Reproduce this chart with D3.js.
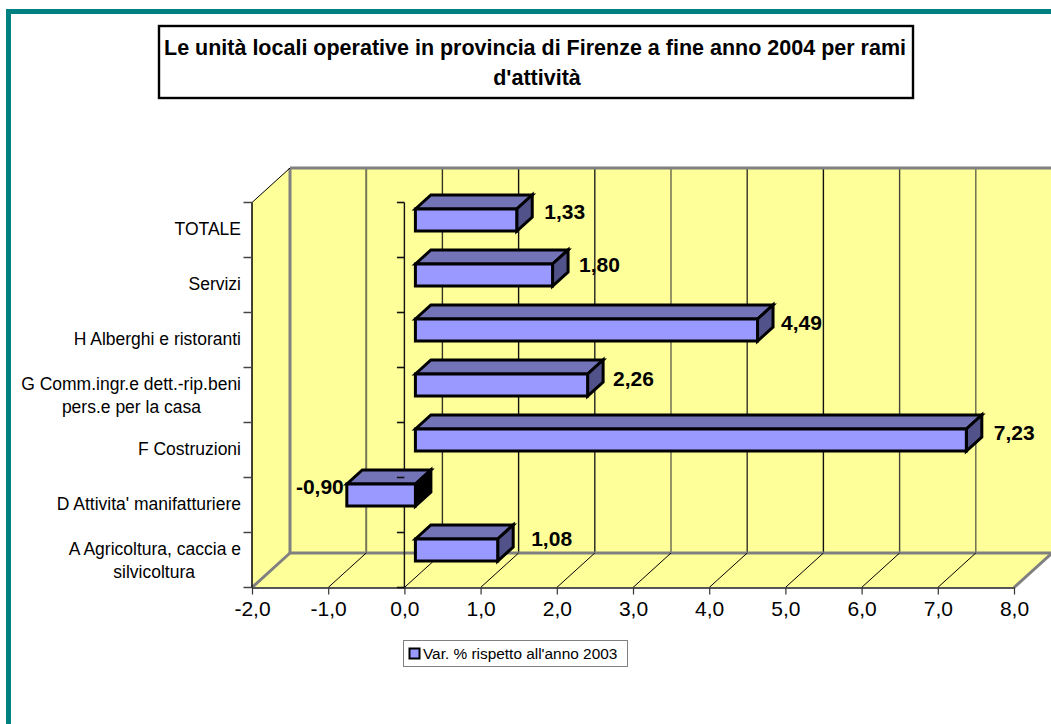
<!DOCTYPE html>
<html><head><meta charset="utf-8">
<script src="https://cdn.jsdelivr.net/npm/d3@7/dist/d3.min.js"></script>
<style>
html,body{margin:0;padding:0;background:#fff;overflow:hidden}
svg{display:block;font-family:"Liberation Sans",Arial,sans-serif}
</style></head><body><div id="c"></div>
<script>
const categories = ["TOTALE","Servizi","H Alberghi e ristoranti","G Comm.ingr.e dett.-rip.beni|pers.e per la casa","F Costruzioni","D Attivita' manifatturiere","A Agricoltura, caccia e|silvicoltura"];
const values = [1.33,1.80,4.49,2.26,7.23,-0.90,1.08];
const valueLabels = ["1,33","1,80","4,49","2,26","7,23","-0,90","1,08"];
const xTicks = [-2,-1,0,1,2,3,4,5,6,7,8];
const xTickLabels = ["-2,0","-1,0","0,0","1,0","2,0","3,0","4,0","5,0","6,0","7,0","8,0"];
const titleLines = ["Le unità locali operative in provincia di Firenze a fine anno 2004 per rami","d'attività"];
const legendLabel = "Var. % rispetto all'anno 2003";

// layout only
const W=1051,H=724, pTop=202.5, pBottom=587.5, pLeft=252, pRight=1014;
const DX=38, DY=-34.5;          // chart depth
const BX=15.5, BY=-14;          // bar depth
const barOffX=11, barOffY=6.5, barH=22;
const labelNudge=[[12,-8],[11,-10],[8,-7],[10,-6],[12,-7],[-3,-8],[18,-11]];
const secondLineEnd={3:201,6:195};
const gridColours=["#808080","#77775a","#333328","#111","#222","#666650","#333328","#111","#444438","#666650"];

const svg=d3.select("#c").append("svg").attr("width",W).attr("height",H);
const x=d3.scaleLinear().domain([-2,8]).range([pLeft,pRight]);
const y=d3.scaleBand().domain(categories).range([pTop,pBottom]);
const pts=a=>a.map(p=>p.join(",")).join(" ");

// frame
svg.append("rect").attr("x",6).attr("y",9).attr("width",W).attr("height",5).attr("fill","#008080");
svg.append("rect").attr("x",6).attr("y",9).attr("width",5).attr("height",H).attr("fill","#008080");

// title
svg.append("rect").attr("x",159).attr("y",26).attr("width",754).attr("height",72).attr("fill","#fff").attr("stroke","#000").attr("stroke-width",2.4);
svg.selectAll(".t").data(titleLines).join("text").attr("x",(d,i)=>[535,537][i]).attr("y",(d,i)=>[55,85][i])
  .attr("text-anchor","middle").attr("font-weight","bold").attr("font-size",21.5).text(d=>d);

// walls
const yellow="#ffff99";
svg.append("polygon").attr("fill",yellow).attr("points",pts([[pLeft+DX,pTop+DY],[W+5,pTop+DY],[W+5,pBottom+DY],[pLeft+DX,pBottom+DY]]));
svg.append("polygon").attr("fill",yellow).attr("points",pts([[pLeft,pTop],[pLeft+DX,pTop+DY],[pLeft+DX,pBottom+DY],[pLeft,pBottom]]));
svg.append("polygon").attr("fill",yellow).attr("points",pts([[pLeft,pBottom],[pLeft+DX,pBottom+DY],[pRight+DX,pBottom+DY],[pRight,pBottom]]));

// gridlines
svg.selectAll(".g").data(xTicks.filter(d=>d<8)).join("line")
  .attr("x1",d=>x(d)+DX).attr("x2",d=>x(d)+DX).attr("y1",pTop+DY).attr("y2",pBottom+DY)
  .attr("stroke",(d,i)=>gridColours[i]).attr("stroke-width",d=>d===-2?3:d===-1?2:1.4);
svg.append("line").attr("x1",pLeft+DX).attr("x2",W+5).attr("y1",pTop+DY).attr("y2",pTop+DY).attr("stroke","#808080").attr("stroke-width",3);
svg.append("line").attr("x1",pLeft+DX).attr("x2",pRight+DX).attr("y1",pBottom+DY).attr("y2",pBottom+DY).attr("stroke","#808080").attr("stroke-width",3);
svg.selectAll(".f").data(xTicks.filter(d=>d>-2&&d<8)).join("line")
  .attr("x1",d=>x(d)).attr("x2",d=>x(d)+DX).attr("y1",pBottom).attr("y2",pBottom+DY).attr("stroke","#000").attr("stroke-width",1);
svg.append("line").attr("x1",pLeft).attr("x2",pLeft+DX).attr("y1",pBottom).attr("y2",pBottom+DY).attr("stroke","#808080").attr("stroke-width",3);
svg.append("line").attr("x1",pRight).attr("x2",pRight+DX).attr("y1",pBottom).attr("y2",pBottom+DY).attr("stroke","#808080").attr("stroke-width",3);
svg.append("line").attr("x1",pLeft).attr("x2",pLeft+DX).attr("y1",pTop).attr("y2",pTop+DY).attr("stroke","#000").attr("stroke-width",1);
svg.append("line").attr("x1",pLeft).attr("x2",pLeft).attr("y1",pTop).attr("y2",pBottom).attr("stroke","#000").attr("stroke-width",1.5);

// value axis
const ax=svg.append("g").attr("transform",`translate(0,${pBottom})`)
  .call(d3.axisBottom(x).tickValues(xTicks).tickSize(7).tickSizeOuter(0).tickFormat((d,i)=>xTickLabels[i]));
ax.select(".domain").attr("stroke","#555").attr("stroke-width",2);
ax.selectAll(".tick line").attr("stroke","#333").attr("stroke-width",1.2);
ax.selectAll("text").attr("font-size",21).attr("font-family","'Liberation Sans',Arial,sans-serif").attr("fill","#000").attr("y",14).attr("dy","0.71em");

// category ticks
const catEdges=[...categories.map(c=>y(c)),pBottom];
const axisX=x(0);
const ticks=(g)=>{
  g.selectAll("line.l").data(catEdges).join("line").attr("class","l").attr("x1",pLeft-8.5).attr("x2",pLeft).attr("y1",d=>d).attr("y2",d=>d).attr("stroke","#444").attr("stroke-width",1.5);
  g.selectAll("line.c").data(catEdges).join("line").attr("class","c").attr("x1",axisX-7.5).attr("x2",axisX).attr("y1",d=>d).attr("y2",d=>d).attr("stroke","#111").attr("stroke-width",1.6);
};
svg.append("line").attr("x1",axisX).attr("x2",axisX).attr("y1",pTop).attr("y2",pBottom).attr("stroke","#111").attr("stroke-width",1.4);

// bars
const bars=svg.selectAll(".bar").data(values).join("g").attr("class","bar");
const stroke={stroke:"#000","stroke-width":3,"stroke-linejoin":"miter"};
function face(sel,fill,f){const p=sel.append("polygon").attr("fill",fill).attr("points",f);for(const k in stroke)p.attr(k,stroke[k]);}
const geom=(d,i)=>{const a=x(Math.min(d,0))+barOffX,b=x(Math.max(d,0))+barOffX,t=y(categories[i])+barOffY;return{a,b,t,u:t+barH};};
bars.each(function(d,i){
  const g=d3.select(this),{a,b,t,u}=geom(d,i);
  face(g,"#7373b8",pts([[a,t],[a+BX,t+BY],[b+BX,t+BY],[b,t]]));
  face(g,d<0?"#000":"#52528a",pts([[b,t],[b+BX,t+BY],[b+BX,u+BY],[b,u]]));
  face(g,"#9999ff",pts([[a,t],[b,t],[b,u],[a,u]]));
});
svg.append("g").call(ticks);

// value labels
svg.selectAll(".v").data(values).join("text").attr("font-weight","bold").attr("font-size",21).attr("fill","#000")
  .attr("text-anchor",d=>d<0?"end":"start")
  .attr("x",(d,i)=>{const g=geom(d,i);return (d<0?g.a:g.b+BX)+labelNudge[i][0];})
  .attr("y",(d,i)=>{const g=geom(d,i);return (g.t+g.u)/2+labelNudge[i][1];})
  .attr("dy","0.35em").text((d,i)=>valueLabels[i]);

// category labels
categories.forEach((c,i)=>{
  const ls=c.split("|"),cy=y(c)+y.bandwidth()/2;
  ls.forEach((l,j)=>{
    svg.append("text").attr("text-anchor","end").attr("font-size",17.5).attr("fill","#000")
      .attr("x",j===1?secondLineEnd[i]:241)
      .attr("y",ls.length>1?cy+(j?11.5:-11.5):cy-1).attr("dy","0.35em").text(l);
  });
});

// legend
svg.append("rect").attr("x",403.5).attr("y",640.5).attr("width",224).attr("height",26).attr("fill","#fff").attr("stroke","#808080").attr("stroke-width",1);
svg.append("rect").attr("x",409.5).attr("y",648.5).attr("width",10).attr("height",10).attr("fill","#9999ff").attr("stroke","#000").attr("stroke-width",2);
svg.append("text").attr("x",423).attr("y",653.5).attr("dy","0.35em").attr("font-size",15.4).attr("fill","#000").text(legendLabel);
</script></body></html>
